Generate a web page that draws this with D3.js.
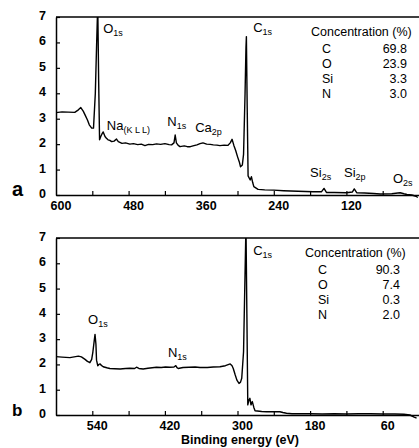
<!DOCTYPE html>
<html><head><meta charset="utf-8">
<script src="https://cdn.jsdelivr.net/npm/d3@7"></script>
<style>body{margin:0;background:#fff}svg{display:block}text{font-family:"Liberation Sans",Arial,sans-serif;fill:#000}</style>
</head><body>
<svg id="c" width="419" height="448"></svg>
<script>
// ---- data ----
const beA = [600,590,580,569,563,559,555,552,548,545,541,538,535,533,531,529.5,528,526,524,522,519,517,514,511,508,504,500,497,491,485,478,472,465,459,453,447,440,434,427,420,413,409,405,403,401,398,395,388,383,378,372,367,362,357,351,345,340,334,329,322,316,312,309,306,303,300,297,295,292,290,287.5,286,285.3,284,282.5,279,277,275,273,266,255,240,224,200,175,161,157,153,140,120,110,107,103,90,75,64,45,35,31,25,20,12,5,2];
const intA = [3.24,3.27,3.26,3.25,3.35,3.44,3.3,3.15,2.95,2.76,2.63,2.63,4.0,5.8,7.5,4.5,2.17,2.3,2.4,2.48,2.3,2.24,2.17,2.15,2.1,2.12,2.2,2.1,2.03,2.05,2.0,2.02,1.98,2.0,1.94,1.99,1.98,2.01,1.99,2.02,1.98,1.97,2.05,2.36,2.05,1.95,1.9,1.93,1.9,1.9,1.94,1.97,2.02,2.05,2.0,1.99,1.97,1.96,1.94,1.96,1.95,2.05,2.19,1.95,1.75,1.51,1.3,1.11,1.18,1.6,4.0,5.8,6.23,3.5,0.75,0.59,0.72,0.5,0.33,0.22,0.2,0.19,0.17,0.15,0.13,0.13,0.26,0.1,0.1,0.09,0.12,0.24,0.09,0.08,0.06,0.04,0.05,0.08,0.09,0.05,0.02,0.0,-0.05,-0.1];
const beB = [600,590,577,570,563,558,552,548,544,541,539,537,535.5,534,533,531,529,527,525,522,516,511,503,494,485,478,470,467,463,456,448,441,434,426,419,412,405,402,400,398,390,380,370,362,350,340,329,320,312,309,307,304,301,297.5,295,293,290,288,286,284.5,283,281,279.5,277.7,275.5,273,271,260,252,240,230,225,219,210,197,180,160,140,120,100,80,60,40,25,15,8,4];
const intB = [2.31,2.29,2.27,2.3,2.33,2.3,2.2,2.12,2.07,2.2,2.5,2.9,3.19,2.8,2.17,1.95,2.0,2.02,1.96,1.91,1.87,1.84,1.83,1.82,1.84,1.85,1.84,1.89,1.84,1.82,1.85,1.87,1.89,1.88,1.9,1.89,1.9,1.95,1.87,1.84,1.88,1.89,1.9,1.88,1.88,1.9,1.91,1.95,2.02,1.95,1.84,1.6,1.38,1.25,1.3,1.45,2.5,5.0,7.5,4.0,0.4,0.6,0.66,0.4,0.53,0.3,0.17,0.14,0.13,0.13,0.13,0.1,0.07,0.05,0.05,0.05,0.04,0.05,0.04,0.05,0.05,0.04,0.04,0.03,0.0,-0.08,-0.12];
const xTicks = [540,480,420,360,300,240,180,120,60];
const xLabelsA = [600,480,360,240,120];
const xLabelsB = [540,420,300,180,60];
const yTicks = [0,1,2,3,4,5,6,7];
const concElems = ["C","O","Si","N"];
const concA = ["69.8","23.9","3.3","3.0"];
const concB = ["90.3","7.4","0.3","2.0"];
const peaksA = [
  {m:"O",s:"1s",be:522,v:6.37},
  {m:"Na",s:"(K L L)",be:516,v:2.56},
  {m:"N",s:"1s",be:416,v:2.71},
  {m:"Ca",s:"2p",be:370,v:2.48},
  {m:"C",s:"1s",be:274,v:6.41},
  {m:"Si",s:"2s",be:180,v:0.71},
  {m:"Si",s:"2p",be:124,v:0.71},
  {m:"O",s:"2s",be:43,v:0.47}
];
const peaksB = [
  {m:"O",s:"1s",be:547,v:3.6},
  {m:"N",s:"1s",be:415,v:2.29},
  {m:"C",s:"1s",be:274,v:6.33}
];

const svg = d3.select("#c");
const x = d3.scaleLinear().domain([600,0]).range([56,419]);

function panel(id, top, bottom, be, inten, labels, peaks, conc, letter, letterSize, concY, concX, elemOff, valOff) {
  const y = d3.scaleLinear().domain([0,7]).range([bottom, top]);
  const g = svg.append("g");
  g.append("clipPath").attr("id","clip"+id).append("rect")
    .attr("x",56).attr("y",top).attr("width",363).attr("height",bottom-top+6);
  const line = d3.line().x((d,i)=>x(be[i])).y((d,i)=>y(inten[i]));
  g.append("path").datum(inten).attr("d",line).attr("fill","none")
    .attr("stroke","#000").attr("stroke-width",1.4).attr("stroke-linejoin","round")
    .attr("clip-path","url(#clip"+id+")");
  g.append("line").attr("x1",56).attr("x2",419).attr("y1",top).attr("y2",top)
    .attr("stroke","#000").attr("stroke-width",1.4);
  const xa = d3.axisBottom(x).tickValues(xTicks).tickSizeInner(-4).tickSizeOuter(0).tickFormat("");
  const gx = g.append("g").attr("transform",`translate(0,${bottom})`).call(xa);
  gx.select(".domain").attr("stroke-width",1.5);
  gx.selectAll(".tick line").attr("stroke-width",1.2);
  g.selectAll(".xl").data(labels).enter().append("text")
    .attr("x",d=>x(d)+5).attr("y",bottom+15).attr("text-anchor","middle")
    .attr("font-size",12.5).attr("font-weight","bold").text(d=>d);
  const ya = d3.axisLeft(y).tickValues(yTicks).tickSizeInner(-4).tickSizeOuter(0).tickFormat("");
  const gy = g.append("g").attr("transform","translate(56,0)").call(ya);
  gy.select(".domain").attr("stroke-width",1.5);
  gy.selectAll(".tick line").attr("stroke-width",1.2);
  g.selectAll(".yl").data(yTicks).enter().append("text")
    .attr("x",46).attr("y",d=>y(d)+3).attr("text-anchor","end")
    .attr("font-size",12.5).attr("font-weight","bold").text(d=>d);
  g.append("text").attr("x",12).attr("y",bottom+1).attr("font-size",letterSize)
    .attr("font-weight","bold").text(letter);
  peaks.forEach(p=>{
    const t = g.append("text").attr("x",x(p.be)).attr("y",y(p.v)).attr("font-size",13);
    t.append("tspan").text(p.m);
    t.append("tspan").attr("dy",3).attr("font-size",9).text(p.s);
  });
  g.append("text").attr("x",concX).attr("y",concY).attr("font-size",12.5).text("Concentration (%)");
  concElems.forEach((e,i)=>{
    g.append("text").attr("x",concX+elemOff).attr("y",concY+17+i*15).attr("font-size",12.5).text(e);
    g.append("text").attr("x",concX+valOff).attr("y",concY+17+i*15).attr("font-size",12.5)
      .attr("text-anchor","end").text(conc[i]);
  });
  gx.selectAll("path,line").attr("stroke","#000");
  gy.selectAll("path,line").attr("stroke","#000");
}

panel("a",17,195,beA,intA,xLabelsA,peaksA,concA,"a",20,36,311,11,96);
panel("b",238,415,beB,intB,xLabelsB,peaksB,concB,"b",17,257,305,13,95);

svg.append("text").attr("x",240).attr("y",444).attr("text-anchor","middle")
  .attr("font-size",12.5).attr("font-weight","bold").text("Binding energy (eV)");
</script>
</body></html>
